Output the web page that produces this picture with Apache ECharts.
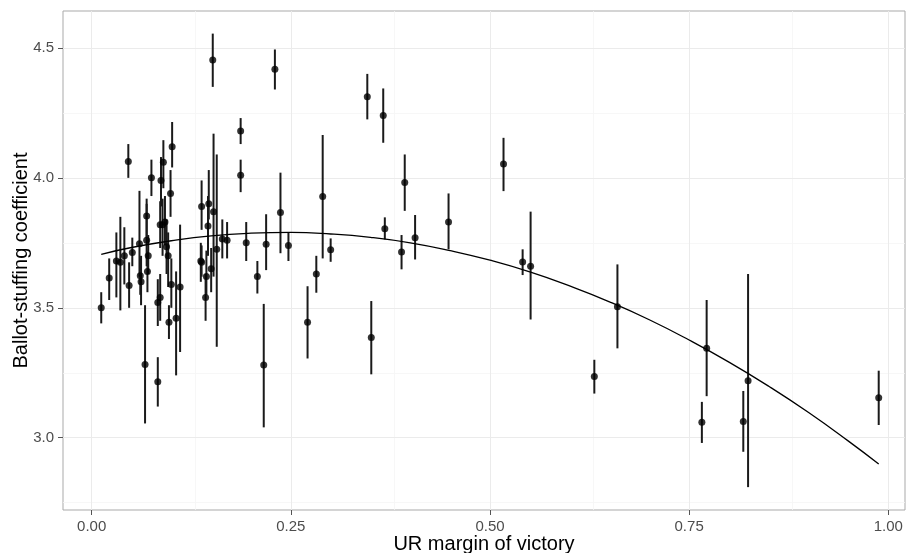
<!DOCTYPE html>
<html>
<head>
<meta charset="utf-8">
<script src="https://cdn.jsdelivr.net/npm/echarts@6/dist/echarts.min.js"></script>
<style>
  html, body { margin: 0; padding: 0; background: #fff; }
  #chart { width: 909px; height: 553px; }
</style>
</head>
<body>
<div id="chart"></div>
<script>
// UR margin of victory per region
const margin = [
  0.012, 0.022, 0.031, 0.036, 0.041, 0.046, 0.047, 0.051, 0.060, 0.062,
  0.061, 0.067, 0.069, 0.069, 0.071, 0.070, 0.075, 0.083, 0.086, 0.083,
  0.087, 0.090, 0.086, 0.092, 0.089, 0.094, 0.096, 0.101, 0.099, 0.100,
  0.097, 0.106, 0.111, 0.138, 0.147, 0.146, 0.153, 0.157, 0.137, 0.138,
  0.143, 0.144, 0.150, 0.152, 0.164, 0.170, 0.187, 0.187, 0.194, 0.208,
  0.216, 0.219, 0.230, 0.237, 0.247, 0.271, 0.282, 0.290, 0.300, 0.346,
  0.351, 0.366, 0.368, 0.389, 0.393, 0.406, 0.448, 0.517, 0.541, 0.551,
  0.631, 0.660, 0.766, 0.772, 0.818, 0.824, 0.988
];
// ballot-stuffing coefficient estimate
const coef = [
  3.500, 3.615, 3.680, 3.675, 3.700, 4.063, 3.586, 3.713, 3.746, 3.600,
  3.623, 3.282, 3.853, 3.760, 3.700, 3.640, 4.000, 3.520, 3.540, 3.215,
  3.990, 4.060, 3.820, 3.830, 3.820, 3.735, 3.700, 4.120, 3.940, 3.590,
  3.444, 3.460, 3.580, 3.890, 3.900, 3.815, 3.870, 3.725, 3.680, 3.675,
  3.540, 3.620, 3.650, 4.453, 3.765, 3.760, 4.180, 4.010, 3.750, 3.620,
  3.280, 3.745, 4.418, 3.867, 3.740, 3.444, 3.630, 3.928, 3.723, 4.312,
  3.386, 4.240, 3.804, 3.715, 3.982, 3.770, 3.830, 4.053, 3.676, 3.660,
  3.236, 3.504, 3.060, 3.344, 3.063, 3.219, 3.154
];
// lower end of error bar
const coefLow = [
  3.440, 3.530, 3.540, 3.490, 3.590, 4.000, 3.500, 3.660, 3.620, 3.510,
  3.550, 3.055, 3.770, 3.660, 3.630, 3.560, 3.930, 3.430, 3.450, 3.120,
  3.890, 3.960, 3.730, 3.740, 3.700, 3.630, 3.580, 4.040, 3.850, 3.500,
  3.380, 3.240, 3.330, 3.800, 3.840, 3.700, 3.620, 3.350, 3.600, 3.620,
  3.450, 3.550, 3.560, 4.350, 3.690, 3.690, 4.130, 3.945, 3.680, 3.555,
  3.040, 3.645, 4.340, 3.710, 3.680, 3.305, 3.558, 3.690, 3.677, 4.225,
  3.244, 4.135, 3.763, 3.648, 3.873, 3.686, 3.725, 3.949, 3.626, 3.455,
  3.170, 3.344, 2.980, 3.160, 2.946, 2.810, 3.049
];
// upper end of error bar
const coefHigh = [
  3.560, 3.690, 3.790, 3.850, 3.810, 4.130, 3.675, 3.770, 3.950, 3.700,
  3.690, 3.510, 3.920, 3.900, 3.780, 3.720, 4.070, 3.610, 3.630, 3.310,
  4.080, 4.145, 3.910, 3.930, 3.920, 3.840, 3.790, 4.215, 4.030, 3.690,
  3.510, 3.640, 3.820, 3.990, 4.030, 3.930, 4.170, 4.090, 3.750, 3.740,
  3.630, 3.720, 3.730, 4.555, 3.840, 3.830, 4.230, 4.070, 3.830, 3.680,
  3.515, 3.860, 4.494, 4.020, 3.790, 3.583, 3.700, 4.165, 3.767, 4.400,
  3.526, 4.344, 3.848, 3.780, 4.090, 3.857, 3.940, 4.154, 3.725, 3.870,
  3.300, 3.667, 3.138, 3.530, 3.180, 3.630, 3.258
];
// quadratic fit line
const fitX = [0.012, 0.05, 0.1, 0.15, 0.2, 0.25, 0.3, 0.35, 0.4, 0.45, 0.5,
              0.55, 0.6, 0.65, 0.7, 0.75, 0.8, 0.85, 0.9, 0.95, 0.988];
const fitY = [3.706, 3.732, 3.758, 3.777, 3.787, 3.790, 3.784, 3.771, 3.750, 3.720, 3.683,
              3.638, 3.584, 3.523, 3.454, 3.376, 3.291, 3.198, 3.097, 2.987, 2.899];
// tick labels
const xTicks = [0, 0.25, 0.5, 0.75, 1.0];
const yTicks = [3.0, 3.5, 4.0, 4.5];
const xMinor = [0.125, 0.375, 0.625, 0.875];
const yMinor = [2.75, 3.25, 3.75, 4.25];

const chart = echarts.init(document.getElementById('chart'));

const points = margin.map((x, i) => [x, coef[i]]);
const bars = margin.map((x, i) => [x, coefLow[i], coefHigh[i]]);
const fit = fitX.map((x, i) => [x, fitY[i]]);

const gridMajor = { color: '#ebebeb', width: 1, type: 'solid' };
const gridMinor = { color: '#f5f5f5', width: 0.8, type: 'solid' };

chart.setOption({
  animation: false,
  textStyle: { fontFamily: 'Liberation Sans, Arial, sans-serif' },
  grid: {
    left: 63, right: 4, top: 11, bottom: 43,
    containLabel: false,
    outerBoundsMode: 'none',
    show: true, borderColor: '#a9a9a9', borderWidth: 1, backgroundColor: '#fff'
  },
  xAxis: {
    type: 'value',
    min: -0.036, max: 1.021,
    name: 'UR margin of victory',
    nameLocation: 'middle', nameGap: 24,
    nameMoveOverlap: false,
    nameTextStyle: { fontSize: 20, color: '#000' },
    axisLine: { show: false, onZero: false },
    axisTick: { show: true, length: 5, inside: false, customValues: xTicks, lineStyle: { color: '#555' } },
    axisLabel: { customValues: xTicks, formatter: v => v.toFixed(2), fontSize: 15, color: '#4d4d4d', margin: 9 },
    splitLine: { show: false }
  },
  yAxis: {
    type: 'value',
    min: 2.722, max: 4.642,
    name: 'Ballot-stuffing coefficient',
    nameLocation: 'middle', nameGap: 32,
    nameMoveOverlap: false,
    nameTextStyle: { fontSize: 20, color: '#000' },
    axisLine: { show: false, onZero: false },
    axisTick: { show: true, length: 5, inside: false, customValues: yTicks, lineStyle: { color: '#555' } },
    axisLabel: { customValues: yTicks, formatter: v => v.toFixed(1), fontSize: 15, color: '#4d4d4d', margin: 9 },
    splitLine: { show: false }
  },
  series: [
    {
      // background grid lines drawn at axis values
      type: 'line',
      data: [],
      silent: true,
      z: 0,
      markLine: {
        silent: true,
        z: 0,
        symbol: 'none',
        label: { show: false },
        animation: false,
        data: [
          ...xMinor.map(v => ({ xAxis: v, lineStyle: gridMinor })),
          ...yMinor.map(v => ({ yAxis: v, lineStyle: gridMinor })),
          ...xTicks.map(v => ({ xAxis: v, lineStyle: gridMajor })),
          ...yTicks.map(v => ({ yAxis: v, lineStyle: gridMajor }))
        ]
      }
    },
    {
      type: 'custom',
      z: 6,
      data: bars,
      renderItem: (params, api) => {
        const lo = api.coord([api.value(0), api.value(1)]);
        const hi = api.coord([api.value(0), api.value(2)]);
        return {
          type: 'line',
          shape: { x1: lo[0], y1: lo[1], x2: hi[0], y2: hi[1] },
          style: { stroke: '#1a1a1a', lineWidth: 2 }
        };
      }
    },
    {
      type: 'line',
      data: fit,
      smooth: true,
      showSymbol: false,
      z: 7,
      lineStyle: { color: '#000', width: 1.3 }
    },
    {
      type: 'scatter',
      data: points,
      symbolSize: 7,
      z: 8,
      itemStyle: { color: '#000' }
    }
  ]
});
</script>
</body>
</html>
